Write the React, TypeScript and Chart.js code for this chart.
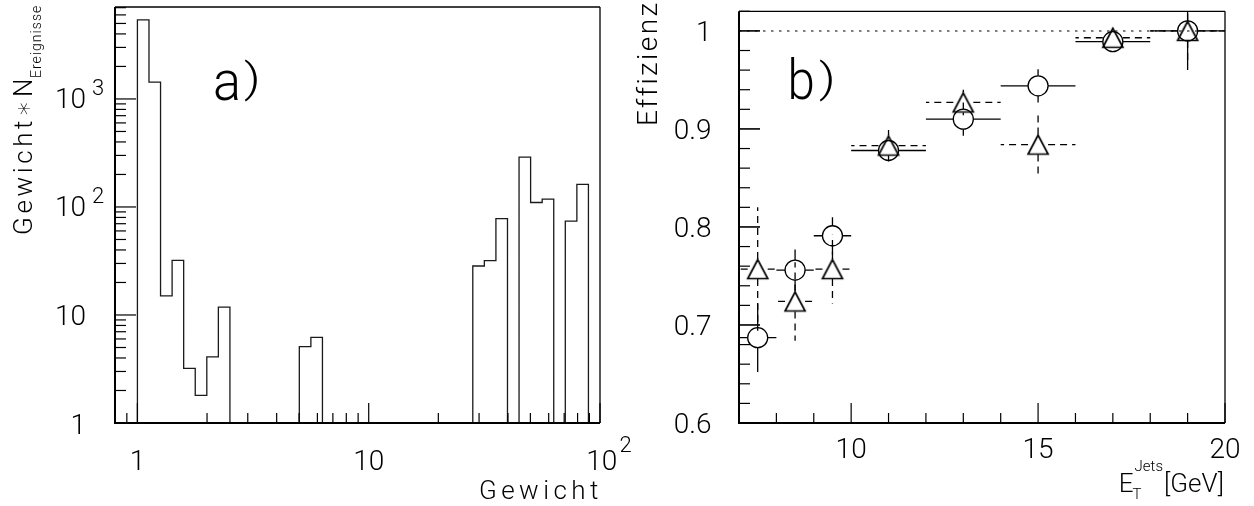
import React, { useEffect, useRef } from 'react';
import { Chart, registerables } from 'chart.js';

Chart.register(...registerables);

// ---------------- a) Gewicht histogram ----------------
const histStart = 1; // lower edge of the first bin
const histBinLog = 0.05; // bin width in log10(Gewicht)
const histValues = [
  5400, 1430, 15, 32, 3.2, 1.8, 4.1, 11.8,
  0, 0, 0, 0, 0, 0,
  5.1, 6.2,
  0, 0, 0, 0, 0, 0, 0, 0, 0, 0, 0, 0, 0,
  28.4, 31.8, 78, 0, 289, 110, 118, 0, 74, 162,
];
const histXRange = [0.8, 100];
const histYRange = [1, 7100];
const histXTickValues = [1, 10, 100];
const histXTickText = ['1', '10', '10'];
const histXTickExp = ['', '', '2'];
const histYTickValues = [1, 10, 100, 1000];
const histYTickText = ['1', '10', '10', '10'];
const histYTickExp = ['', '', '2', '3'];

// ---------------- b) Effizienz vs E_T ----------------
const etCenters = [7.5, 8.5, 9.5, 11, 13, 15, 17, 19];
const etHalfWidths = [0.5, 0.5, 0.5, 1, 1, 1, 1, 1];
const effCircle = [0.687, 0.756, 0.791, 0.878, 0.91, 0.944, 0.989, 1.0];
const effCircleErr = [0.035, 0.021, 0.019, 0.011, 0.017, 0.017, 0.007, 0.04];
const effTriangle = [0.757, 0.724, 0.757, 0.883, 0.927, 0.884, 0.993, 1.0];
const effTriangleErr = [0.063, 0.04, 0.035, 0.016, 0.013, 0.032, 0.006, 0.035];
const effXRange = [7, 20];
const effYRange = [0.6, 1.02];
const effXTickValues = [10, 15, 20];
const effXTickText = ['10', '15', '20'];
const effYTickValues = [0.6, 0.7, 0.8, 0.9, 1];
const effYTickText = ['0.6', '0.7', '0.8', '0.9', '1'];
const effReference = 1;

const FAMILY = 'Roboto, "DejaVu Sans", sans-serif';
const font = (px: number) => `300 ${px}px ${FAMILY}`;

function seg(ctx: CanvasRenderingContext2D, x1: number, y1: number, x2: number, y2: number) {
  ctx.beginPath();
  ctx.moveTo(x1, y1);
  ctx.lineTo(x2, y2);
  ctx.stroke();
}

// draw text so that its ink fills the given box
function inkText(ctx: CanvasRenderingContext2D, text: string, x0: number, x1: number, y0: number, y1: number, px: number) {
  ctx.save();
  ctx.font = font(px);
  ctx.textAlign = 'left';
  ctx.textBaseline = 'alphabetic';
  const m = ctx.measureText(text);
  const w = m.actualBoundingBoxLeft + m.actualBoundingBoxRight;
  const h = m.actualBoundingBoxAscent + m.actualBoundingBoxDescent;
  const sx = (x1 - x0) / w;
  const sy = (y1 - y0) / h;
  ctx.translate(x0 + m.actualBoundingBoxLeft * sx, y0 + m.actualBoundingBoxAscent * sy);
  ctx.scale(sx, sy);
  ctx.fillText(text, 0, 0);
  ctx.restore();
}

// draw text on a baseline, letter-spaced so its ink spans x0..x1
function spacedText(ctx: CanvasRenderingContext2D, text: string, x0: number, x1: number, base: number, px: number) {
  ctx.save();
  ctx.font = font(px);
  ctx.textAlign = 'left';
  ctx.textBaseline = 'alphabetic';
  const m = ctx.measureText(text);
  const w = m.actualBoundingBoxLeft + m.actualBoundingBoxRight;
  const ls = (x1 - x0 - w) / Math.max(1, text.length - 1);
  (ctx as any).letterSpacing = `${ls}px`;
  ctx.fillText(text, x0 + m.actualBoundingBoxLeft, base);
  ctx.restore();
}

function plainText(ctx: CanvasRenderingContext2D, text: string, x: number, y: number, px: number, align: CanvasTextAlign) {
  ctx.save();
  ctx.font = font(px);
  ctx.textAlign = align;
  ctx.textBaseline = 'alphabetic';
  ctx.fillText(text, x, y);
  ctx.restore();
}

function textWidth(ctx: CanvasRenderingContext2D, text: string, px: number) {
  ctx.save();
  ctx.font = font(px);
  const w = ctx.measureText(text).width;
  ctx.restore();
  return w;
}

const histDeco = {
  id: 'histDeco',
  afterDatasetsDraw(chart: any) {
    const { ctx, chartArea: a } = chart;
    const xs = chart.scales.x;
    const ys = chart.scales.y;
    ctx.save();
    ctx.strokeStyle = '#000';
    ctx.fillStyle = '#000';
    ctx.lineWidth = 1.2;
    const decades = [0.1, 1, 10, 100, 1000];
    // x ticks
    decades.forEach((d) => {
      for (let m = 1; m <= 9; m++) {
        const v = +(d * m).toPrecision(4);
        if (v < histXRange[0] || v > histXRange[1]) continue;
        const major = histXTickValues.includes(v);
        const px = xs.getPixelForValue(v);
        seg(ctx, px, a.bottom, px, a.bottom - (major ? 20 : 10));
      }
    });
    // y ticks
    decades.forEach((d) => {
      for (let m = 1; m <= 9; m++) {
        const v = +(d * m).toPrecision(4);
        if (v < histYRange[0] || v > histYRange[1]) continue;
        const major = histYTickValues.includes(v);
        const py = ys.getPixelForValue(v);
        seg(ctx, a.left, py, a.left + (major ? 21 : 11), py);
      }
    });
    // frame
    ctx.lineWidth = 2;
    seg(ctx, a.left, a.top, a.left, a.bottom + 1);
    seg(ctx, a.left - 1, a.bottom, a.right, a.bottom);
    ctx.lineWidth = 1.3;
    seg(ctx, a.left, a.top, a.right, a.top);
    seg(ctx, a.right, a.top, a.right, a.bottom);

    // x tick labels
    histXTickValues.forEach((v, i) => {
      const px = xs.getPixelForValue(v);
      if (histXTickExp[i]) {
        plainText(ctx, histXTickText[i], px + 1.7, a.bottom + 47, 28, 'center');
        plainText(ctx, histXTickExp[i], px + 19.5, a.bottom + 29, 22, 'left');
      } else {
        plainText(ctx, histXTickText[i], px, a.bottom + 47, 28, 'center');
      }
    });
    // y tick labels
    histYTickValues.forEach((v, i) => {
      const py = ys.getPixelForValue(v);
      if (histYTickExp[i]) {
        plainText(ctx, histYTickText[i], a.left - 29, py + 9.5, 28, 'right');
        plainText(ctx, histYTickExp[i], a.left - 23, py - 4, 22, 'left');
      } else {
        plainText(ctx, histYTickText[i], a.left - 29, py + 10.5, 28, 'right');
      }
    });

    // titles
    spacedText(ctx, 'Gewicht', 480, 598, 499, 26);
    ctx.save();
    ctx.rotate(-Math.PI / 2);
    spacedText(ctx, 'Gewicht\u2217N', -234, -80, 31.5, 26);
    spacedText(ctx, 'Ereignisse', -77, -6, 40.5, 14);
    ctx.restore();

    // panel label
    inkText(ctx, 'a', 215, 238, 70, 100, 50);
    inkText(ctx, ')', 244, 258, 58, 102, 40);
    ctx.restore();
  },
};

const effDeco = {
  id: 'effDeco',
  beforeDatasetsDraw(chart: any) {
    const { ctx, chartArea: a } = chart;
    const xs = chart.scales.x;
    const ys = chart.scales.y;
    ctx.save();
    ctx.beginPath();
    ctx.rect(a.left, a.top, a.right - a.left, a.bottom - a.top);
    ctx.clip();
    // dotted reference line at 1
    ctx.strokeStyle = '#555';
    ctx.lineWidth = 1.5;
    ctx.setLineDash([2.5, 5.5]);
    const y1 = ys.getPixelForValue(effReference);
    seg(ctx, a.left, y1, a.right, y1);

    const drawErr = (vals: number[], errs: number[], dash: number[]) => {
      ctx.strokeStyle = '#000';
      ctx.lineWidth = 1.3;
      ctx.setLineDash(dash);
      const gap = 10;
      vals.forEach((val, i) => {
        const cx = xs.getPixelForValue(etCenters[i]);
        const cy = ys.getPixelForValue(val);
        const xl = xs.getPixelForValue(etCenters[i] - etHalfWidths[i]);
        const xr = xs.getPixelForValue(etCenters[i] + etHalfWidths[i]);
        const yt = ys.getPixelForValue(val + errs[i]);
        const yb = ys.getPixelForValue(val - errs[i]);
        if (xl < cx - gap) seg(ctx, cx - gap, cy, xl, cy);
        if (xr > cx + gap) seg(ctx, cx + gap, cy, xr, cy);
        if (yt < cy - gap) seg(ctx, cx, cy - gap, cx, yt);
        if (yb > cy + gap) seg(ctx, cx, cy + gap, cx, yb);
      });
    };
    drawErr(effCircle, effCircleErr, []);
    drawErr(effTriangle, effTriangleErr, [7, 5]);
    ctx.restore();
  },
  afterDatasetsDraw(chart: any) {
    const { ctx, chartArea: a } = chart;
    const xs = chart.scales.x;
    const ys = chart.scales.y;
    ctx.save();
    ctx.strokeStyle = '#000';
    ctx.fillStyle = '#000';
    ctx.lineWidth = 1.2;
    for (let v = effXRange[0]; v <= effXRange[1] + 1e-9; v += 1) {
      const major = effXTickValues.includes(v);
      const px = xs.getPixelForValue(v);
      seg(ctx, px, a.bottom, px, a.bottom - (major ? 20 : 10));
    }
    for (let k = 0; k <= 21; k++) {
      const v = +(effYRange[0] + k * 0.02).toFixed(2);
      if (v > effYRange[1] + 1e-9) break;
      const major = effYTickValues.includes(v);
      const py = ys.getPixelForValue(v);
      ctx.lineWidth = major ? 1.6 : 1.2;
      seg(ctx, a.left, py, a.left + (major ? 21 : 11), py);
    }
    ctx.lineWidth = 2;
    seg(ctx, a.left, a.top, a.left, a.bottom + 1);
    seg(ctx, a.left - 1, a.bottom, a.right, a.bottom);
    ctx.lineWidth = 1.3;
    seg(ctx, a.left, a.top, a.right, a.top);
    seg(ctx, a.right, a.top, a.right, a.bottom);

    effXTickValues.forEach((v, i) => {
      plainText(ctx, effXTickText[i], xs.getPixelForValue(v), a.bottom + 35, 28, 'center');
    });
    effYTickValues.forEach((v, i) => {
      plainText(ctx, effYTickText[i], a.left - 27.5, ys.getPixelForValue(v) + 10.3, 28, 'right');
    });

    // axis titles
    ctx.save();
    ctx.rotate(-Math.PI / 2);
    spacedText(ctx, 'Effizienz', -124, -5, 37, 28);
    ctx.restore();

    const big = 26;
    const small = 15;
    const wE = textWidth(ctx, 'E', big);
    const wJ = textWidth(ctx, 'Jets', small);
    const wG = textWidth(ctx, '[GeV]', big);
    const right = a.right - 1;
    const x0 = right - (wE + 1 + wJ + 1 + wG);
    const base = a.bottom + 69;
    plainText(ctx, 'E', x0, base, big, 'left');
    plainText(ctx, 'T', x0 + wE - 1, base + 7, small, 'left');
    plainText(ctx, 'Jets', x0 + wE + 1, base - 21, small, 'left');
    plainText(ctx, '[GeV]', x0 + wE + 2 + wJ, base, big, 'left');

    inkText(ctx, 'b', 171, 193, 56.7, 100, 56);
    inkText(ctx, ')', 199, 213, 58, 102, 40);
    ctx.restore();
  },
};

function makeTriangle(): HTMLCanvasElement {
  const c = document.createElement('canvas');
  c.width = 26;
  c.height = 26;
  const g = c.getContext('2d')!;
  g.strokeStyle = '#000';
  g.lineWidth = 1.7;
  g.lineJoin = 'miter';
  g.beginPath();
  g.moveTo(13, 3.5);
  g.lineTo(3, 22.5);
  g.lineTo(23, 22.5);
  g.closePath();
  g.stroke();
  return c;
}

export default function App() {
  const leftRef = useRef<HTMLCanvasElement>(null);
  const rightRef = useRef<HTMLCanvasElement>(null);

  useEffect(() => {
    const histPoints: { x: number; y: number }[] = [];
    const edge = (k: number) => histStart * Math.pow(10, k * histBinLog);
    histPoints.push({ x: edge(0), y: histYRange[0] });
    histValues.forEach((v, k) => histPoints.push({ x: edge(k + 1), y: Math.max(v, histYRange[0]) }));
    histPoints.push({ x: edge(histValues.length), y: histYRange[0] });

    const left = new Chart(leftRef.current!, {
      type: 'line',
      data: {
        datasets: [
          {
            data: histPoints,
            stepped: 'after',
            borderColor: '#1a1a1a',
            borderWidth: 1.3,
            pointRadius: 0,
            fill: false,
          } as any,
        ],
      },
      options: {
        responsive: false,
        animation: false,
        devicePixelRatio: 1,
        events: [],
        layout: { padding: { left: 115, top: 7, right: 60, bottom: 83 } },
        plugins: { legend: { display: false }, tooltip: { enabled: false } },
        scales: {
          x: { type: 'logarithmic', min: histXRange[0], max: histXRange[1], display: false },
          y: { type: 'logarithmic', min: histYRange[0], max: histYRange[1], display: false },
        },
      },
      plugins: [histDeco],
    });

    const tri = makeTriangle();
    const right = new Chart(rightRef.current!, {
      type: 'scatter',
      data: {
        datasets: [
          {
            data: etCenters.map((x, i) => ({ x, y: effCircle[i] })),
            pointStyle: 'circle',
            pointRadius: 10,
            borderColor: '#000',
            borderWidth: 1.3,
            backgroundColor: 'rgba(0,0,0,0)',
          },
          {
            data: etCenters.map((x, i) => ({ x, y: effTriangle[i] })),
            pointStyle: tri as any,
            pointRadius: 10,
            borderColor: '#000',
            backgroundColor: 'rgba(0,0,0,0)',
          },
        ],
      },
      options: {
        responsive: false,
        animation: false,
        devicePixelRatio: 1,
        events: [],
        layout: { padding: { left: 119, top: 7, right: 29, bottom: 83 } },
        plugins: { legend: { display: false }, tooltip: { enabled: false } },
        scales: {
          x: { type: 'linear', min: effXRange[0], max: effXRange[1], display: false },
          y: { type: 'linear', min: effYRange[0], max: effYRange[1], display: false },
        },
      },
      plugins: [effDeco],
    });

    return () => {
      left.destroy();
      right.destroy();
    };
  }, []);

  return (
    <div style={{ position: 'fixed', left: 0, top: 0, width: 1254, height: 506, background: '#fff' }}>
      <canvas ref={leftRef} width={660} height={506} style={{ position: 'absolute', left: 0, top: 0 }} />
      <canvas ref={rightRef} width={634} height={506} style={{ position: 'absolute', left: 620, top: 0 }} />
    </div>
  );
}
